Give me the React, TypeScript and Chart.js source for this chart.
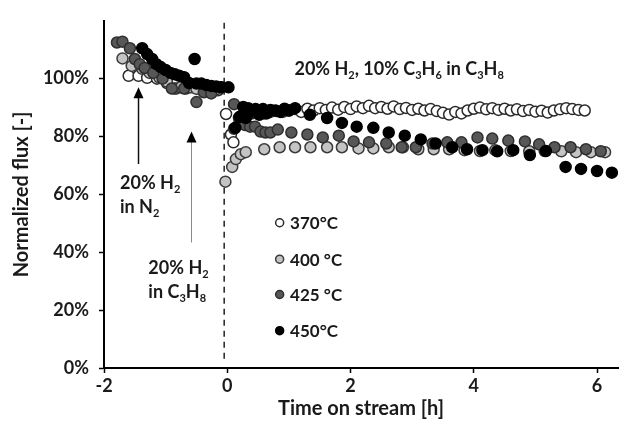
import { useEffect, useRef } from "react";
import { Chart, registerables } from "chart.js";

Chart.register(...registerables);

// Time on stream [h] and normalized flux [%] for each membrane temperature
const time370 = [-1.6, -1.44, -1.3, -1.14, -0.98, -0.83, -0.67, -0.58, -0.45, -0.3, -0.15,
  -0.02, 0.06, 0.1, 0.2, 0.3, 0.4, 0.5, 0.6, 0.7, 0.8, 0.9, 1.0, 1.1, 1.2, 1.3, 1.4, 1.5, 1.6, 1.7, 1.8, 1.9,
  2.0, 2.1, 2.2, 2.3, 2.4, 2.5, 2.6, 2.7, 2.8, 2.9, 3.0, 3.1, 3.2, 3.3, 3.4, 3.5, 3.6, 3.7, 3.8, 3.9,
  4.0, 4.1, 4.2, 4.3, 4.4, 4.5, 4.6, 4.7, 4.8, 4.9, 5.0, 5.1, 5.2, 5.3, 5.4, 5.5, 5.6, 5.7, 5.8];
const flux370 = [101, 101, 100.3, 100, 98.5, 96.6, 96.6, 97, 96.5, 96.5, 96,
  87.8, 80.7, 78, 85, 87.5, 88, 88.5, 88, 88.5, 88.8, 88.5, 89, 89.5, 88.5, 89.6, 89, 89.8, 89.2, 90, 89.3, 90.2,
  89.5, 90.4, 89.8, 90.6, 89.8, 90.2, 89.6, 90.4, 89.5, 89.9, 89.2, 89.6, 89, 89.5, 88.8, 88.2, 87.6, 88.5, 88, 89,
  89.6, 90, 89.4, 89.8, 89.2, 89.6, 89, 89.4, 88.8, 89.2, 88.6, 88.9, 88.3, 89, 89.4, 89.8, 89.5, 89.2, 89];

const time400 = [-1.7, -1.55, -1.38, -1.26, -1.1, -0.98, -0.86, -0.75, -0.62, -0.5, -0.35, -0.2,
  -0.03, 0.08, 0.14, 0.22, 0.3, 0.6, 0.85, 1.1, 1.35, 1.62, 1.86, 2.13, 2.37, 2.62, 2.85, 3.1, 3.35, 3.6,
  3.85, 4.1, 4.35, 4.6, 4.9, 5.15, 5.42, 5.66, 5.9, 6.13];
const flux400 = [107, 104.4, 103.4, 102, 100.3, 99, 96.6, 97, 97, 96.5, 96.2, 96,
  64.4, 69.5, 72.2, 73.9, 74.6, 75.6, 76.3, 76.3, 76.3, 76.3, 76.3, 75.9, 75.9, 76.3, 76.3, 75.6, 75.6, 75.6,
  75.3, 75, 75.3, 75, 74.9, 75, 74.9, 74.6, 74.6, 74.6];

const time425 = [-1.79, -1.7, -1.58, -1.5, -1.42, -1.34, -1.2, -1.05, -0.9, -0.7, -0.5, -0.38, -0.26, -0.1,
  0.11, 0.19, 0.11, 0.29, 0.37, 0.45, 0.54, 0.62, 0.7, 0.82, 1.04, 1.3, 1.55, 1.81, 2.05, 2.3, 2.58, 2.83,
  3.06, 3.33, 3.57, 3.8, 4.06, 4.3, 4.56, 4.83, 5.06, 5.31, 5.57, 5.82, 6.06];
const flux425 = [112.5, 112.8, 110.5, 106.8, 105, 103.7, 102, 100, 96.6, 96.6, 91.9, 95.3, 94.9, 97,
  91.2, 86.4, 82.7, 84, 83.4, 83.4, 81.7, 81.4, 81.4, 82.4, 81.4, 80.7, 79.7, 80.3, 78.3, 78, 77.6, 76.3,
  76.3, 77.6, 78, 78, 79.7, 79.3, 78.6, 78.3, 77.3, 76.3, 76.3, 75.6, 74.9];

const time450 = [-1.38, -1.3, -1.22, -1.15, -1.08, -1.0, -0.92, -0.85, -0.78, -0.7, -0.53, -0.62, -0.5, -0.42,
  -0.34, -0.26, -0.18, -0.1, 0.02,
  0.13, 0.2, 0.26, 0.3, 0.34, 0.4, 0.46, 0.52, 0.58, 0.64, 0.7, 0.78, 0.86, 0.93, 1.0, 1.1,
  1.34, 1.62, 1.86, 2.1, 2.37, 2.62, 2.88, 3.14, 3.38, 3.65, 3.89, 4.14, 4.38, 4.64, 4.91, 5.17,
  5.49, 5.74, 6.0, 6.24];
const flux450 = [110.5, 108.5, 106.8, 105, 104, 103, 102, 101.5, 101, 100.5, 106.8, 98.5, 98.3, 98.3,
  97.8, 97.5, 97.3, 97, 97,
  83, 86.8, 90.2, 86.4, 89.8, 88.5, 89.5, 87.5, 89.5, 88, 89.2, 89, 88.5, 89.6, 89, 89.8,
  87.5, 86.4, 84.7, 83.4, 83, 81.4, 80.3, 79, 77.6, 76.3, 75.6, 75.3, 74.9, 75.3, 73.6, 75,
  69.5, 68.8, 68.1, 67.5];

const seriesLabels = ["370°C", "400 °C", "425 °C", "450°C"];
const yTickValues = [0, 20, 40, 60, 80, 100];
const xTickValues = [-2, 0, 2, 4, 6];

const FONT = "Lato, 'Open Sans', sans-serif";
const TEXT = "#1a1a1a";

const fills = ["#ffffff", "#c4c4c4", "#575757", "#000000"];
const borders = ["#2a2a2a", "#3a3a3a", "#2e2e2e", "#000000"];

const pairs = (xs: number[], ys: number[]) => xs.map((x, i) => ({ x, y: ys[i] }));

type Part = [string, boolean];

function drawRich(ctx: CanvasRenderingContext2D, parts: Part[], x: number, y: number, size: number) {
  let cx = x;
  ctx.textBaseline = "alphabetic";
  ctx.textAlign = "left";
  for (const [txt, sub] of parts) {
    const s = sub ? Math.round(size * 0.62) : size;
    ctx.font = `bold ${s}px ${FONT}`;
    ctx.fillText(txt, cx, sub ? y + size * 0.22 : y);
    cx += ctx.measureText(txt).width;
  }
}

const overlay = {
  id: "overlay",
  beforeDatasetsDraw(chart: any) {
    const { ctx, chartArea, scales } = chart;
    const x0 = scales.x.getPixelForValue(-0.05);
    ctx.save();
    ctx.strokeStyle = "#222";
    ctx.lineWidth = 1.5;
    ctx.setLineDash([6, 5]);
    ctx.beginPath();
    ctx.moveTo(x0, chartArea.top + 2);
    ctx.lineTo(x0, chartArea.bottom - 6);
    ctx.stroke();
    ctx.restore();
  },
  afterDatasetsDraw(chart: any) {
    const { ctx, scales } = chart;
    const px = (v: number) => scales.x.getPixelForValue(v);
    const py = (v: number) => scales.y.getPixelForValue(v);
    ctx.save();

    const arrow = (xv: number, tip: number, end: number, color: string, width: number) => {
      const x = px(xv);
      const t = py(tip);
      const b = py(end);
      ctx.strokeStyle = color;
      ctx.lineWidth = width;
      ctx.beginPath();
      ctx.moveTo(x, t + 8);
      ctx.lineTo(x, b);
      ctx.stroke();
      ctx.fillStyle = "#000";
      ctx.beginPath();
      ctx.moveTo(x, t);
      ctx.lineTo(x - 5, t + 11);
      ctx.lineTo(x + 5, t + 11);
      ctx.closePath();
      ctx.fill();
    };
    arrow(-1.44, 97, 70.5, "#111", 1.5);
    arrow(-0.58, 81.7, 43.4, "#8a8a8a", 1);

    ctx.fillStyle = TEXT;
    drawRich(ctx, [["20% H", false], ["2", true], [", 10% C", false], ["3", true], ["H", false], ["6", true], [" in C", false], ["3", true], ["H", false], ["8", true]], px(1.09), py(101.4), 18);
    drawRich(ctx, [["20% H", false], ["2", true]], px(-1.74), py(62), 18);
    drawRich(ctx, [["in N", false], ["2", true]], px(-1.74), py(53.6), 18);
    drawRich(ctx, [["20% H", false], ["2", true]], px(-1.28), py(32.5), 18);
    drawRich(ctx, [["in C", false], ["3", true], ["H", false], ["8", true]], px(-1.28), py(24.1), 18);

    // legend entries
    const legendY = [50.2, 37.6, 25.4, 12.9];
    seriesLabels.forEach((label, i) => {
      const cy = py(legendY[i]);
      ctx.beginPath();
      ctx.arc(px(0.85), cy, 4, 0, Math.PI * 2);
      ctx.fillStyle = fills[i];
      ctx.fill();
      ctx.lineWidth = 1.5;
      ctx.strokeStyle = borders[i];
      ctx.stroke();
      ctx.fillStyle = TEXT;
      ctx.font = `bold 17px ${FONT}`;
      ctx.textAlign = "left";
      ctx.textBaseline = "middle";
      ctx.fillText(label, px(1.02), cy + 1);
    });
    ctx.restore();
  },
};

export default function App() {
  const canvasRef = useRef<HTMLCanvasElement | null>(null);

  useEffect(() => {
    if (!canvasRef.current) return;
    const sets = [pairs(time370, flux370), pairs(time400, flux400), pairs(time425, flux425), pairs(time450, flux450)];
    const chart = new Chart(canvasRef.current, {
      type: "scatter",
      data: {
        datasets: sets.map((d, i) => ({
          label: seriesLabels[i],
          data: d,
          backgroundColor: fills[i],
          borderColor: borders[i],
          borderWidth: 1.5,
          pointRadius: 5.5,
          order: 4 - i,
        })),
      },
      options: {
        animation: false,
        responsive: false,
        layout: { padding: { left: 0, right: 0, top: 14, bottom: 0 } },
        plugins: { legend: { display: false }, tooltip: { enabled: false } },
        scales: {
          x: {
            type: "linear",
            min: -2,
            max: 6.34,
            afterBuildTicks: (s: any) => {
              s.ticks = xTickValues.map((v) => ({ value: v }));
            },
            afterFit: (s: any) => {
              s.height = 58;
            },
            ticks: { color: TEXT, font: { family: FONT, size: 18, weight: "bold" }, padding: 2 },
            grid: { drawOnChartArea: false, tickLength: 5, color: "#000", tickWidth: 1.5 },
            border: { color: "#000", width: 2 },
            title: {
              display: true,
              text: "Time on stream [h]",
              color: TEXT,
              font: { family: FONT, size: 20, weight: "bold" },
              padding: { top: 0, bottom: 5 },
            },
          },
          y: {
            min: 0,
            max: 120,
            afterBuildTicks: (s: any) => {
              s.ticks = yTickValues.map((v) => ({ value: v }));
            },
            afterFit: (s: any) => {
              s.width = 104;
            },
            ticks: {
              color: TEXT,
              font: { family: FONT, size: 18, weight: "bold" },
              padding: 10,
              callback: (v: any) => `${v}%`,
            },
            grid: { drawOnChartArea: false, tickLength: 5, color: "#000", tickWidth: 1.5 },
            border: { color: "#000", width: 2 },
            title: {
              display: true,
              text: "Normalized flux [-]",
              color: TEXT,
              font: { family: FONT, size: 20, weight: "bold" },
              padding: { top: 10, bottom: 0 },
            },
          },
        },
      },
      plugins: [overlay],
    });
    return () => chart.destroy();
  }, []);

  return (
    <div style={{ position: "absolute", left: 0, top: 0, width: 625, height: 426, background: "#fff" }}>
      <canvas ref={canvasRef} width={625} height={426} style={{ display: "block" }} />
    </div>
  );
}
